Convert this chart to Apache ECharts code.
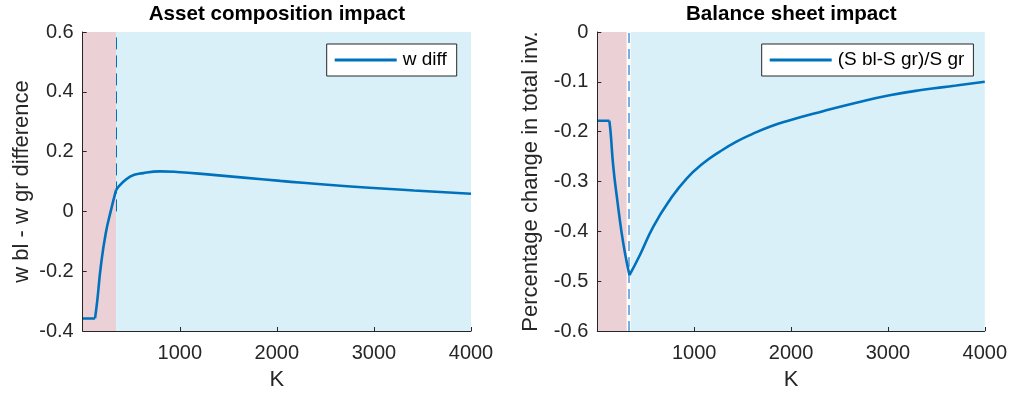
<!DOCTYPE html>
<html>
<head>
<meta charset="utf-8">
<script src="https://cdn.jsdelivr.net/npm/echarts@6/dist/echarts.min.js"></script>
<style>
html,body{margin:0;padding:0;background:#fff;}
#chart{width:1010px;height:396px;}
</style>
</head>
<body>
<div id="chart"></div>
<script>
// ---- data ----
const titles = ['Asset composition impact', 'Balance sheet impact'];
const yNames = ['w bl - w gr difference', 'Percentage change in total inv.'];
const xName = 'K';
const seriesNames = ['w diff', '(S bl-S gr)/S gr'];

const leftK = [0, 127, 151, 186, 237, 292, 344, 488, 625, 798, 970, 1314, 1657, 2037, 2724, 3412, 4000];
const leftW = [-0.358, -0.358, -0.296, -0.185, -0.074, 0.005, 0.072, 0.116, 0.128, 0.134, 0.132, 0.123, 0.113, 0.102, 0.084, 0.070, 0.059];
const leftBreaks = [127, 344];

const rightK = [0, 124, 138, 165, 206, 252, 293, 332, 440, 577, 749, 922, 1093, 1265, 1437, 1608, 1780, 1953, 2330, 2674, 3018, 3361, 3705, 4000];
const rightS = [-0.178, -0.178, -0.203, -0.270, -0.337, -0.404, -0.451, -0.488, -0.4475, -0.391, -0.337, -0.294, -0.2636, -0.240, -0.220, -0.204, -0.190, -0.179, -0.159, -0.142, -0.127, -0.116, -0.1075, -0.0997];
const rightBreaks = [124, 332];

const leftRegions = {red: [0, 344], blue: [344, 4000], line: 346, lineY: [0, 0.6]};
const rightRegions = {red: [0, 303], blue: [344, 4000], line: 322, lineY: [-0.6, 0]};

const xRange = [0, 4000, 1000];
const leftY = [-0.4, 0.6, 0.2];
const rightY = [-0.6, 0, 0.1];

// ---- build ----
const FONT = "'Liberation Sans', Arial, Helvetica, sans-serif";
const TXT = '#262626';
const LINE = '#0072BD';

function segments(K, V, breaks) {
  const pts = K.map((k, i) => [k, V[i]]);
  const b = [-Infinity].concat(breaks, [Infinity]);
  const segs = [];
  for (let s = 0; s < b.length - 1; s++) {
    segs.push(pts.filter(p => p[0] >= b[s] && p[0] <= b[s + 1]));
  }
  return segs;
}

const grids = [
  {left: 82.7, top: 32, width: 388.3, height: 299},
  {left: 597.3, top: 32, width: 388, height: 299}
];

function xAxisOpt(i) {
  return {
    type: 'value', gridIndex: i, min: xRange[0], max: xRange[1], interval: xRange[2], z: 10,
    name: xName, nameLocation: 'middle', nameGap: 38,
    nameTextStyle: {fontFamily: FONT, fontSize: 22, color: TXT},
    axisLine: {show: true, onZero: false, lineStyle: {color: TXT, width: 1}},
    axisTick: {show: true, inside: true, length: 4, lineStyle: {color: TXT}},
    axisLabel: {showMinLabel: false, fontFamily: FONT, fontSize: 20, color: TXT, margin: 12,
      formatter: v => String(v)},
    splitLine: {show: false}
  };
}
function yAxisOpt(i, r, gap) {
  return {
    type: 'value', gridIndex: i, min: r[0], max: r[1], interval: r[2], z: 10,
    name: yNames[i], nameLocation: 'middle', nameGap: gap,
    nameTextStyle: {fontFamily: FONT, fontSize: 22, color: TXT},
    axisLine: {show: true, onZero: false, lineStyle: {color: TXT, width: 1}},
    axisTick: {show: true, inside: true, length: 4, lineStyle: {color: TXT}},
    axisLabel: {fontFamily: FONT, fontSize: 20, color: TXT, margin: 9},
    splitLine: {show: false}
  };
}

function bgSeries(i, reg, lineColor, dash, lw) {
  return {
    type: 'line', xAxisIndex: i, yAxisIndex: i, data: [], z: 1, silent: true,
    markArea: {
      silent: true,
      data: [
        [{xAxis: reg.red[0], itemStyle: {color: '#ebd0d6'}}, {xAxis: reg.red[1]}],
        [{xAxis: reg.blue[0], itemStyle: {color: '#daf0f9'}}, {xAxis: reg.blue[1]}]
      ]
    },
    markLine: {
      silent: true, symbol: ['none', 'none'], label: {show: false},
      lineStyle: {color: lineColor, type: dash, width: lw},
      data: [[{coord: [reg.line, reg.lineY[0]]}, {coord: [reg.line, reg.lineY[1]]}]]
    }
  };
}

function curveSeries(i, name, segs) {
  return segs.map((seg, s) => ({
    type: 'line', name: name, xAxisIndex: i, yAxisIndex: i, data: seg, z: 5,
    symbol: 'none', showSymbol: false, smooth: s === 0 ? false : 0.5,
    lineStyle: {color: LINE, width: 2.6}, itemStyle: {color: LINE}, silent: true
  }));
}

const legendBase = {
  orient: 'horizontal', top: 44, itemWidth: 62, itemHeight: 3, itemGap: 0,
  icon: 'rect',
  backgroundColor: '#fff', borderColor: TXT, borderWidth: 1, borderRadius: 0,
  selectedMode: false,
  itemStyle: {color: LINE},
  textStyle: {fontFamily: FONT, fontSize: 19, color: '#000', lineHeight: 20, padding: [0, 0, 0, 1]}
};

const option = {
  animation: false,
  backgroundColor: '#fff',
  title: [
    {text: titles[0], left: 276.85, top: 4, textAlign: 'center', padding: 0,
     textStyle: {fontFamily: FONT, fontSize: 20.6, fontWeight: 'bold', color: '#000'}},
    {text: titles[1], left: 791.3, top: 4, textAlign: 'center', padding: 0,
     textStyle: {fontFamily: FONT, fontSize: 20.6, fontWeight: 'bold', color: '#000'}}
  ],
  legend: [
    Object.assign({}, legendBase, {data: [seriesNames[0]], left: 326.7, padding: [6, 10, 6, 8]}),
    Object.assign({}, legendBase, {data: [seriesNames[1]], left: 761.7, padding: [6, 9, 6, 8]})
  ],
  grid: grids,
  xAxis: [xAxisOpt(0), xAxisOpt(1)],
  yAxis: [yAxisOpt(0, leftY, 50), yAxisOpt(1, rightY, 55)],
  series: [
    bgSeries(0, leftRegions, '#0072BD', [12, 6], 1),
    bgSeries(1, rightRegions, '#5b9bd5', [10, 6], 1.6)
  ].concat(
    curveSeries(0, seriesNames[0], segments(leftK, leftW, leftBreaks)),
    curveSeries(1, seriesNames[1], segments(rightK, rightS, rightBreaks))
  )
};

const chart = echarts.init(document.getElementById('chart'), null, {renderer: 'canvas'});
chart.setOption(option);
</script>
</body>
</html>
